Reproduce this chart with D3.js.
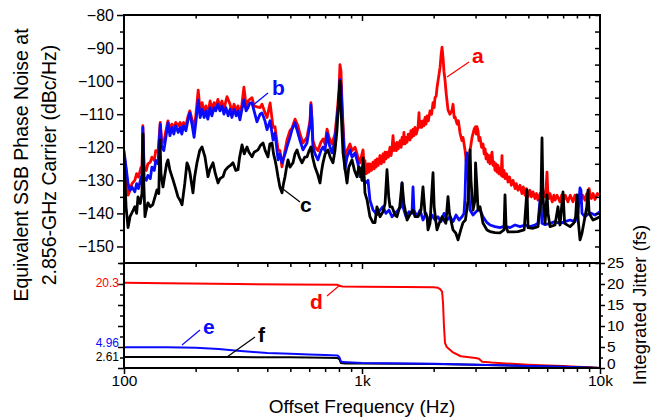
<!DOCTYPE html>
<html>
<head>
<meta charset="utf-8">
<script src="https://cdn.jsdelivr.net/npm/d3@7"></script>
<style>
  body { margin: 0; background: #fff; }
  svg { display: block; font-family: "Liberation Sans", Arial, sans-serif; }
</style>
</head>
<body>
<div id="chart"></div>
<script>
// Phase noise (top, dBc/Hz) and integrated jitter (bottom, fs) vs offset frequency

// [offset Hz, dBc/Hz] — trace a (red)
const traceA = [
  [100,-122],[102,-127],[104,-134.5],[106,-133],[108,-131],[111,-130],[113,-128],[115,-129],[118,-126],[119,-127],
  [120,-113.5],[121.5,-126],[124,-127],[126,-125],[129,-124.5],[131,-123],[134,-124],[136,-121],[139,-121.5],[142,-112.5],
  [144,-118],[147,-118.5],[150,-115],[153,-112],[156,-114.5],[159,-113],[162,-114.5],[165,-112.5],[169,-113.5],[172,-112.5],
  [175,-114],[178,-112.5],[182,-113.5],[186,-110.5],[189,-109],[193,-111.5],[197,-114],[200,-111],[205,-102.7],[209,-109],
  [213,-106.5],[217,-109.5],[221,-107.5],[225,-110],[230,-106],[234,-108.5],[239,-106.5],[243,-108],[248,-105.5],[253,-108],
  [258,-106],[263,-108.5],[268,-106],[271,-104.7],[279,-107],[284,-109.5],[290,-107],[296,-109],[301,-107.5],[307,-110],
  [313,-107],[319,-101.8],[326,-107.5],[332,-106],[338,-105.5],[345,-105],[352,-107.5],[362,-107.8],[373,-108],[380,-107],
  [391,-109.5],[399,-111],[411,-106.6],[423,-114],[431,-113.8],[444,-120.8],[452,-121],[461,-125.9],[475,-121],[484,-117.8],
  [498,-115],[508,-114.2],[523,-111.5],[538,-113.5],[549,-116],[565,-118.7],[587,-117],[605,-112],[610,-106.5],[616,-111],
  [622,-118],[635,-120],[653,-121],[672,-118.5],[686,-117.5],[699,-119],[713,-114.5],[727,-117],[748,-119],[770,-116],
  [785,-110],[800,-103],[808,-95],[816,-97],[824,-106],[832,-113],[848,-124],[865,-121],[890,-119],[908,-121],
  [935,-120],[962,-123],[981,-124.7],[1000,-122],[1010,-120.8],[1020,-125],[1029,-124],[1040,-128],[1050,-127.7],[1060,-125],
  [1070,-127.5],[1080,-125],[1095,-127],[1112,-124.5],[1125,-126.5],[1135,-124],[1146,-126],[1156,-123.5],[1170,-125.5],[1190,-122.5],
  [1205,-125],[1225,-122],[1237,-124.5],[1249,-121.5],[1262,-123.5],[1274,-121.5],[1290,-123],[1311,-120],[1325,-122.5],[1337,-120.5],
  [1350,-116.5],[1365,-121],[1380,-119],[1395,-121],[1403,-118.5],[1420,-120.5],[1445,-118],[1460,-120],[1473,-117],[1490,-119],
  [1500,-115.5],[1516,-119],[1530,-117],[1546,-118.5],[1565,-116],[1591,-117.8],[1605,-115],[1620,-117],[1638,-114.5],[1655,-116.5],
  [1670,-114],[1690,-116],[1720,-114],[1736,-109.5],[1745,-114],[1760,-112],[1780,-114],[1805,-112],[1820,-113.5],[1840,-111],
  [1858,-113],[1876,-110.5],[1900,-112],[1931,-109],[1960,-110],[1988,-106.5],[2010,-108],[2027,-105],[2050,-104.5],[2066,-102],
  [2086,-100],[2127,-96],[2150,-92],[2169,-89.7],[2190,-93],[2210,-97],[2232,-99.6],[2260,-104],[2298,-108.7],[2340,-110],
  [2390,-108.8],[2413,-107],[2440,-111],[2460,-110.8],[2510,-113],[2540,-112],[2582,-115.7],[2630,-118],[2657,-117],[2709,-120.8],
  [2750,-125],[2789,-130],[2815,-127],[2844,-121],[2900,-117],[2960,-114.5],[3000,-113.8],[3020,-116],[3042,-113.8],[3072,-115],
  [3100,-118],[3132,-117],[3180,-120],[3225,-119],[3260,-122],[3290,-120.5],[3320,-123.5],[3352,-122],[3390,-124.5],[3420,-122.5],
  [3450,-125],[3480,-123],[3518,-121.5],[3550,-125.5],[3590,-124.5],[3622,-127],[3660,-125],[3692,-127.5],[3730,-125.5],[3760,-128],
  [3800,-126.5],[3840,-128.5],[3875,-122.5],[3900,-128.9],[3950,-127],[3990,-129.5],[4050,-128],[4107,-130.5],[4170,-129],[4240,-131.5],
  [4310,-130],[4400,-132.5],[4450,-131],[4524,-133],[4612,-131.5],[4700,-134],[4760,-132],[4840,-134.5],[4910,-132.5],[4983,-135],
  [5080,-133],[5150,-135],[5230,-133.5],[5330,-135.5],[5410,-134],[5489,-136],[5600,-134],[5706,-135.5],[5800,-133.5],[5874,-135],
  [5940,-132],[5988,-127.5],[6030,-133],[6100,-135.5],[6165,-134],[6300,-136.5],[6400,-134.5],[6470,-136],[6600,-134.5],[6791,-136.5],
  [6900,-134.5],[6991,-136.5],[7150,-134.5],[7330,-136.5],[7500,-134.5],[7700,-136.5],[7850,-134.5],[8000,-136],[8120,-134.5],[8241,-136.5],
  [8450,-134.5],[8650,-136],[8800,-134],[8904,-135.5],[9000,-132.5],[9078,-134],[9200,-135.5],[9350,-134],[9528,-135.8],[9750,-134],
  [10000,-134.5]
];

// trace b (blue)
const traceB = [
  [100,-121],[102,-126],[104,-131],[106,-133],[108,-132],[111,-133.5],[113,-131],[115,-132.5],[118,-129],[119,-131],
  [120,-114],[121.5,-129],[124,-130],[126,-128.5],[129,-129.5],[131,-126],[134,-127],[136,-124],[139,-125],[142,-113],
  [144,-120],[147,-121],[150,-117],[153,-112.6],[156,-116.5],[159,-114],[162,-116],[165,-113.5],[169,-115.5],[172,-114],
  [175,-116],[178,-113.5],[182,-115],[186,-111.5],[189,-109.6],[193,-113],[197,-117],[200,-113],[205,-105.7],[209,-111],
  [213,-108.5],[217,-111],[221,-109],[225,-111.5],[230,-108],[234,-110.5],[239,-108],[243,-109],[248,-107],[253,-109],
  [258,-107.5],[263,-110],[268,-108],[274,-110.5],[279,-108.5],[284,-111],[290,-108.5],[296,-110.5],[301,-109],[307,-111.7],
  [313,-108.5],[319,-105.7],[326,-109],[332,-108],[338,-106.6],[345,-106.6],[352,-109],[362,-112.3],[373,-110],[380,-109.6],
  [391,-112],[399,-114.7],[411,-112],[423,-117.8],[431,-115.7],[444,-123.8],[452,-122],[461,-124.7],[475,-122],[484,-119.9],
  [498,-117],[508,-114.7],[523,-112.6],[538,-115.7],[549,-118],[565,-120.8],[587,-118.7],[605,-113],[610,-107.2],[616,-112],
  [622,-120],[635,-122],[653,-123.8],[672,-121],[686,-119.9],[699,-121],[713,-115.7],[727,-119],[748,-121.7],[770,-118],
  [785,-111.7],[800,-106],[808,-99.5],[816,-101],[824,-108],[832,-115],[848,-126.8],[865,-123],[890,-120.8],[908,-123],
  [935,-121.7],[962,-125],[981,-128.9],[1000,-126],[1010,-129],[1029,-131],[1060,-130],[1080,-136],[1112,-138.9],[1156,-140.4],
  [1190,-139],[1225,-138],[1261,-140],[1298,-139],[1337,-141],[1376,-140],[1417,-139],[1458,-138],[1473,-130.8],[1487,-138],
  [1530,-141],[1576,-139.5],[1622,-140],[1638,-132],[1654,-139],[1703,-141],[1753,-139],[1805,-142],[1857,-140],[1912,-143],
  [1968,-140.5],[2027,-142],[2086,-141],[2147,-142.5],[2211,-140],[2276,-142],[2343,-141],[2413,-142.5],[2484,-140.5],[2557,-142],
  [2632,-141],[2683,-140],[2709,-135],[2735,-124],[2762,-121.7],[2789,-124],[2816,-134],[2844,-139],[2927,-140.5],[3013,-139.5],
  [3072,-139],[3132,-138.9],[3225,-141],[3352,-142.8],[3450,-143.5],[3621,-144],[3801,-144.3],[3989,-143.8],[4187,-144.3],[4394,-143.5],
  [4612,-144],[4841,-143.5],[5081,-144],[5332,-143.5],[5489,-143],[5596,-135.9],[5650,-137],[5706,-143],[5874,-143.4],[6165,-143],
  [6470,-142.5],[6791,-143],[7128,-142.5],[7481,-142],[7852,-142.5],[8083,-140],[8241,-132.3],[8321,-133],[8402,-140],[8649,-141],
  [9078,-139.8],[9528,-140.5],[10000,-139.5]
];

// trace c (black)
const traceC = [
  [100,-123],[101,-130],[102,-138],[104,-144.3],[106,-141],[108,-139.8],[111,-138],[113,-140],[114.5,-135],[117,-137],
  [119,-134],[120.2,-116],[121,-130],[122.5,-141],[124,-139],[126,-136.8],[129,-138],[132,-137.4],[135,-135],[137.6,-132.9],
  [140,-134],[141.7,-117.8],[143,-128],[145.8,-132],[148.7,-128],[151,-125],[153,-123.8],[156,-127],[160.6,-129.8],[164,-132],
  [168.6,-135],[172,-136],[175.3,-137.4],[180,-131],[183.9,-124.7],[187,-126],[189.3,-127.7],[194.9,-133.8],[198,-129],[202.6,-124.7],
  [208,-121],[212.7,-119.9],[218.9,-122.9],[225.4,-128.9],[230,-126.5],[236.6,-124.7],[242,-128],[248.3,-130.8],[253,-129.5],[260.6,-128.9],
  [266,-127],[273.5,-126],[280,-125.5],[287,-124.7],[295,-127],[301.3,-126.8],[306,-123],[313.2,-119.3],[320,-122],[328.7,-119.9],
  [335,-121.5],[345,-122.9],[352,-121.5],[365.6,-120.8],[374,-119.5],[383.8,-118.7],[392,-121],[402.7,-122.9],[410,-119],[418.7,-118.7],
  [425,-122],[431,-123.8],[437,-126],[443.7,-128.9],[452,-132],[461.2,-133.8],[468,-131],[474.8,-128.9],[482,-126],[488.8,-123.8],
  [498,-126],[513,-124.7],[523,-122],[533.3,-120.8],[545,-123],[559.7,-124.7],[575,-123],[587.4,-122.9],[600,-121],[610.5,-119.9],
  [620,-123],[634.6,-126],[650,-128],[666,-130.8],[677,-127],[685.6,-124.7],[700,-122],[719.6,-120.8],[735,-123],[755.3,-124.7],
  [770,-121],[785.2,-114.7],[795,-108],[802,-103],[808,-100],[812,-104],[818,-110],[832.2,-121.7],[840,-124],[865,-130.8],
  [880,-126],[907.8,-123.8],[930,-127],[952.8,-128.9],[970,-126],[981,-126.5],[1000,-130],[1010,-123.3],[1020,-128],[1029,-133.8],
  [1050,-135.9],[1080,-141],[1112,-142.8],[1134,-142.8],[1156,-138],[1190,-141],[1225,-139.5],[1250,-137],[1273.5,-126.8],[1295,-135],
  [1311,-138],[1337,-138],[1376,-140.5],[1403,-141],[1440,-138],[1473,-130.8],[1500,-137],[1546,-142],[1600,-140],[1638,-139],
  [1670,-141],[1720,-141],[1770,-139],[1804,-132],[1840,-140],[1876,-141],[1894,-145],[1930,-143],[1988,-127.7],[2010,-138],
  [2040,-142],[2066,-145],[2110,-143],[2169,-141],[2210,-142],[2250,-143],[2298,-134.9],[2330,-140],[2413,-145],[2480,-146],
  [2532,-148],[2600,-145],[2657,-142.8],[2720,-142],[2790,-136],[2844,-120.8],[2870,-130],[2927,-139],[2984,-136],[3000,-124.7],
  [3040,-132],[3073,-139],[3132,-138],[3225,-143],[3352,-145],[3450,-145.5],[3620,-145.8],[3800,-145.9],[3950,-145],[3989,-134.4],
  [4030,-144],[4106,-145.6],[4310,-145.6],[4520,-145.5],[4800,-145],[4935,-132.9],[4985,-144.3],[5230,-144.5],[5489,-144],[5650,-135],
  [5706,-117.2],[5760,-135],[5874,-143],[5988,-134.4],[6050,-140],[6165,-144],[6470,-143.5],[6661,-138],[6791,-143.5],[6991,-133.5],
  [7100,-143],[7481,-144],[7750,-143],[7900,-141],[8005,-134.4],[8100,-142],[8241,-148],[8400,-146],[8649,-141],[8800,-138],
  [8904,-133],[9000,-140],[9345,-142],[9700,-141.5],[10000,-141]
];

// [offset Hz, integrated jitter fs]
const jitterD = [
  [100,20.3],[150,20.2],[300,20.0],[500,19.9],[790,19.8],[808,19.5],[830,19.4],[1000,19.35],[1500,19.3],[2000,19.2],
  [2086,19.1],[2130,18.8],[2170,18.2],[2190,15.5],[2210,10],[2232,6],[2270,5],[2400,3.8],[2600,2.8],[3000,2.4],
  [3100,2.2],[3200,1.5],[3500,1.3],[4000,1.1],[5000,0.8],[6000,0.6],[7000,0.45],[8000,0.3],[9000,0.15],[10000,0]
];
const jitterE = [
  [100,4.96],[150,4.96],[175,4.9],[200,4.8],[250,4.5],[300,4.1],[350,3.8],[400,3.6],[500,3.4],[600,3.2],
  [700,3.1],[790,3.0],[805,2.5],[815,1.6],[830,1.4],[1000,1.2],[2000,1.0],[3000,0.8],[5000,0.5],[7000,0.3],[10000,0]
];
const jitterF = [
  [100,2.61],[300,2.6],[500,2.55],[700,2.45],[790,2.4],[805,2.0],[815,1.2],[850,1.1],[1000,1.05],[2000,0.95],
  [3000,0.8],[5000,0.5],[7000,0.3],[10000,0]
];
const startValues = ['20.3', '4.96', '2.61'];

const freqMajor = [100, 1000, 10000];
const freqMinor = [200, 300, 400, 500, 600, 700, 800, 900, 2000, 3000, 4000, 5000, 6000, 7000, 8000, 9000];
const freqLabels = {100: '100', 1000: '1k', 10000: '10k'};
const phaseMajor = [-150, -140, -130, -120, -110, -100, -90, -80];
const phaseMinor = [-155, -145, -135, -125, -115, -105, -95, -85];
const jitterMajor = [0, 5, 10, 15, 20, 25];
const jitterMinor = [2.5, 7.5, 12.5, 17.5, 22.5];

const RED = '#ff0000', BLUE = '#0a0aff', BLACK = '#000';
const W = 652, H = 420;
const L = 124, R = 600, T = 15, MID = 263, B = 368;

const svg = d3.select('#chart').append('svg').attr('width', W).attr('height', H);

const x = d3.scaleLog().domain([100, 10000]).range([L, R]);
const yTop = d3.scaleLinear().domain([-155, -80]).range([MID, T]);
const yBot = d3.scaleLinear().domain([0, 25]).range([B, MID]);

const defs = svg.append('defs');
defs.append('clipPath').attr('id', 'clipTop').append('rect')
    .attr('x', L).attr('y', T).attr('width', R - L).attr('height', MID - T);
defs.append('clipPath').attr('id', 'clipBot').append('rect')
    .attr('x', L).attr('y', MID).attr('width', R - L).attr('height', B - MID);

// traces
const lineTop = d3.line().x(d => x(d[0])).y(d => yTop(d[1]));
const lineBot = d3.line().x(d => x(d[0])).y(d => yBot(d[1]));

const gTop = svg.append('g').attr('clip-path', 'url(#clipTop)');
[[traceA, RED], [traceB, BLUE], [traceC, BLACK]].forEach(([data, c]) => {
    gTop.append('path').datum(data).attr('d', lineTop)
        .attr('fill', 'none').attr('stroke', c).attr('stroke-width', 2.8)
        .attr('stroke-linejoin', 'round');
});

const gBot = svg.append('g').attr('clip-path', 'url(#clipBot)');
[[jitterD, RED], [jitterF, BLACK], [jitterE, BLUE]].forEach(([data, c]) => {
    gBot.append('path').datum(data).attr('d', lineBot)
        .attr('fill', 'none').attr('stroke', c).attr('stroke-width', 2)
        .attr('stroke-linejoin', 'round');
});

// axes helper
function addAxis(axis, tx, ty, fontSize) {
    const g = svg.append('g').attr('transform', `translate(${tx},${ty})`).call(axis);
    g.select('.domain').remove();
    g.selectAll('line').attr('stroke', '#000').attr('stroke-width', 1.5);
    g.selectAll('text').attr('font-size', fontSize || 16).attr('fill', '#000')
        .attr('font-family', '"Liberation Sans", Arial, sans-serif');
    return g;
}

// top panel
addAxis(d3.axisLeft(yTop).tickValues(phaseMajor).tickSize(7).tickPadding(3), L, 0);
addAxis(d3.axisLeft(yTop).tickValues(phaseMinor).tickSize(4).tickFormat(''), L, 0);
addAxis(d3.axisRight(yTop).tickValues(phaseMajor.concat(phaseMinor)).tickSize(-5).tickFormat(''), R, 0);
addAxis(d3.axisTop(x).tickValues([1000]).tickSize(-6).tickFormat(''), 0, T);
addAxis(d3.axisTop(x).tickValues(freqMinor).tickSize(-3.5).tickFormat(''), 0, T);

// bottom panel
addAxis(d3.axisTop(x).tickValues([1000]).tickSize(-6).tickFormat(''), 0, MID);
addAxis(d3.axisTop(x).tickValues(freqMinor).tickSize(-4).tickFormat(''), 0, MID);
addAxis(d3.axisBottom(x).tickValues(freqMajor).tickSize(6).tickPadding(1).tickFormat(d => freqLabels[d]), 0, B, 15.5);
addAxis(d3.axisBottom(x).tickValues(freqMinor).tickSize(4).tickFormat(''), 0, B);
addAxis(d3.axisLeft(yBot).tickValues(jitterMajor).tickSize(6).tickFormat(''), L, 0);
addAxis(d3.axisLeft(yBot).tickValues(jitterMinor).tickSize(4).tickFormat(''), L, 0);
const rightJ = addAxis(d3.axisRight(yBot).tickValues(jitterMajor).tickSize(5).tickPadding(2), R, 0, 15.5);
rightJ.selectAll('text').filter(d => d === 0).attr('dy', '0.05em');
addAxis(d3.axisRight(yBot).tickValues(jitterMinor).tickSize(3).tickFormat(''), R, 0);

// frames
svg.append('rect').attr('x', L).attr('y', T).attr('width', R - L).attr('height', B - T)
    .attr('fill', 'none').attr('stroke', '#000').attr('stroke-width', 2);
svg.append('line').attr('x1', L).attr('x2', R).attr('y1', MID).attr('y2', MID)
    .attr('stroke', '#000').attr('stroke-width', 2);

// start values of the jitter curves
const startColors = [RED, BLUE, BLACK];
const startData = [jitterD, jitterE, jitterF];
const startShift = [0, -4, 0];
startValues.forEach((t, i) => {
    svg.append('text').attr('x', 119).attr('y', yBot(startData[i][0][1]) + startShift[i])
        .attr('dy', '0.35em').attr('text-anchor', 'end').attr('font-size', 12)
        .attr('fill', startColors[i]).text(t);
});

// curve labels with leader lines
const callouts = [
    {t: 'a', c: RED,   tx: 472, ty: 63,  x1: 447, y1: 77,  x2: 469, y2: 62},
    {t: 'b', c: BLUE,  tx: 272, ty: 95,  x1: 252, y1: 106, x2: 268, y2: 93},
    {t: 'c', c: BLACK, tx: 300, ty: 212, x1: 283, y1: 189, x2: 300, y2: 202},
    {t: 'd', c: RED,   tx: 310, ty: 309, x1: 327, y1: 296, x2: 340, y2: 285},
    {t: 'e', c: BLUE,  tx: 203, ty: 334, x1: 182, y1: 345, x2: 200, y2: 330},
    {t: 'f', c: BLACK, tx: 258, ty: 342, x1: 227, y1: 357, x2: 255, y2: 337}
];
callouts.forEach(d => {
    svg.append('line').attr('x1', d.x1).attr('y1', d.y1).attr('x2', d.x2).attr('y2', d.y2)
        .attr('stroke', d.c).attr('stroke-width', 1.2);
    svg.append('text').attr('x', d.tx).attr('y', d.ty).attr('font-size', 21)
        .attr('font-weight', 'bold').attr('fill', d.c).text(d.t);
});

// titles
svg.append('text').attr('transform', 'translate(28,165) rotate(-90)')
    .attr('text-anchor', 'middle').attr('font-size', 19.5).text('Equivalent SSB Phase Noise at');
svg.append('text').attr('transform', 'translate(56,165) rotate(-90)')
    .attr('text-anchor', 'middle').attr('font-size', 19.5).text('2.856-GHz Carrier (dBc/Hz)');
svg.append('text').attr('transform', 'translate(646,305) rotate(-90)')
    .attr('text-anchor', 'middle').attr('font-size', 18.5).text('Integrated Jitter (fs)');
svg.append('text').attr('x', (L + R) / 2).attr('y', 413)
    .attr('text-anchor', 'middle').attr('font-size', 19).text('Offset Frequency (Hz)');
</script>
</body>
</html>
